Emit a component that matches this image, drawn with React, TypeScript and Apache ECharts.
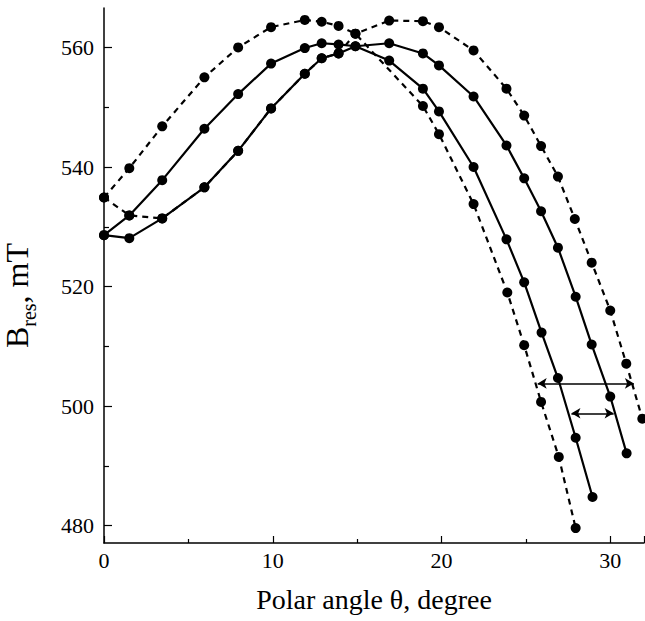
import React, { useEffect, useRef } from "react";
import * as echarts from "echarts";

// Dashed curve 1 (top-left rising branch, inner falling branch)
const thetaD1 = [0, 1.5, 3.45, 5.95, 7.95, 9.9, 11.9, 12.9, 13.9, 14.9, 18.9, 19.85, 21.9, 23.9, 24.9, 25.9, 26.95, 27.95];
const bresD1 = [534.9, 539.8, 546.8, 555.0, 560.0, 563.4, 564.6, 564.3, 563.6, 562.3, 550.2, 545.5, 533.8, 519.0, 510.2, 500.7, 491.5, 479.6];

// Dashed curve 2 (low-left branch, outer falling branch)
const thetaD2 = [0, 1.5, 3.45, 5.95, 7.95, 9.9, 11.9, 12.9, 13.9, 14.9, 16.9, 18.9, 19.85, 21.9, 23.85, 24.9, 25.9, 26.9, 27.9, 28.9, 30, 30.95, 31.9];
const bresD2 = [534.9, 531.9, 531.4, 536.6, 542.7, 549.8, 555.6, 558.2, 559.0, 562.3, 564.5, 564.4, 563.4, 559.5, 553.1, 548.6, 543.5, 538.4, 531.3, 524.0, 516.0, 507.1, 497.9];

// Solid curve 1 (middle rising branch, second-outer falling branch)
const thetaS1 = [0, 1.5, 3.45, 5.95, 7.95, 9.9, 11.9, 12.9, 13.9, 14.9, 16.9, 18.9, 19.85, 21.9, 23.85, 24.9, 25.9, 26.9, 27.95, 28.9, 30, 30.97];
const bresS1 = [528.6, 531.9, 537.8, 546.4, 552.2, 557.3, 559.9, 560.7, 560.5, 560.2, 560.7, 559.0, 557.0, 551.8, 543.6, 538.1, 532.6, 526.5, 518.3, 510.3, 501.6, 492.1];

// Solid curve 2 (lower rising branch, second-inner falling branch)
const thetaS2 = [0, 1.5, 3.45, 5.95, 7.95, 9.9, 11.9, 12.9, 13.9, 14.9, 16.9, 18.9, 19.85, 21.9, 23.85, 24.9, 25.93, 26.9, 27.95, 28.95];
const bresS2 = [528.6, 528.1, 531.4, 536.6, 542.7, 549.8, 555.6, 558.2, 559.0, 560.2, 557.8, 553.1, 549.3, 540.0, 527.9, 520.7, 512.3, 504.7, 494.7, 484.8];

// Double-headed arrows: [thetaStart, thetaEnd, bres]
const arrowUpper = [25.7, 31.4, 503.8];
const arrowLower = [27.7, 30.2, 498.8];

// Ticks
const yMajorTicks = [480, 500, 520, 540, 560];
const yMinorTicks = [490, 510, 530, 550];

const X_MIN = 0;
const X_MAX = 32;
const Y_MIN = 477.1;
const Y_MAX = 566.6;

const FONT = "Liberation Serif";

function zip(xs: number[], ys: number[]) {
  return xs.map((x, i) => [x, ys[i]]);
}

export default function App() {
  const ref = useRef<HTMLDivElement>(null);

  useEffect(() => {
    if (!ref.current) return;
    const chart = echarts.init(ref.current, null, { renderer: "svg" });

    const dot = {
      symbol: "circle",
      symbolSize: 10,
      itemStyle: { color: "#000" },
    };

    const arrowLine = (a: number[]) => [
      { coord: [a[0], a[2]] },
      { coord: [a[1], a[2]] },
    ];

    chart.setOption({
      animation: false,
      backgroundColor: "#fff",
      textStyle: { fontFamily: FONT, fontSize: 22, color: "#000" },
      grid: { left: 104, right: 1, top: 8, bottom: 78, containLabel: false, outerBoundsMode: "none" },
      xAxis: {
        type: "value",
        min: X_MIN,
        max: X_MAX,
        interval: 10,
        name: "Polar angle θ, degree",
        nameLocation: "middle",
        nameGap: 42,
        nameTextStyle: { fontFamily: FONT, fontSize: 28, color: "#000" },
        axisLine: { show: true, lineStyle: { color: "#000", width: 1.5 } },
        axisTick: { show: true, inside: true, length: 7, lineStyle: { color: "#000", width: 1.2 } },
        minorTick: { show: true, splitNumber: 2, length: 4, lineStyle: { color: "#000", width: 1.2 } },
        axisLabel: {
          show: true,
          margin: 6,
          fontFamily: FONT,
          fontSize: 22,
          color: "#000",
          showMaxLabel: false,
        },
        splitLine: { show: false },
        minorSplitLine: { show: false },
      },
      yAxis: [
        {
          type: "value",
          min: Y_MIN,
          max: Y_MAX,
          name: "{b|B}{s|res}{b|, mT}",
          nameLocation: "middle",
          nameRotate: 90,
          nameGap: 65,
          nameTextStyle: {
            color: "#000",
            padding: [0, 40, 0, 0],
            rich: {
              b: { fontFamily: FONT, fontSize: 32, lineHeight: 44, color: "#000" },
              s: { fontFamily: FONT, fontSize: 20, lineHeight: 22, verticalAlign: "bottom", color: "#000" },
            },
          },
          axisLine: { show: true, lineStyle: { color: "#000", width: 1.5 } },
          axisTick: { show: true, inside: true, length: 8, customValues: yMajorTicks, lineStyle: { color: "#000", width: 1.2 } },
          axisLabel: {
            show: true,
            customValues: yMajorTicks,
            margin: 10,
            fontFamily: FONT,
            fontSize: 22,
            color: "#000",
          },
          splitLine: { show: false },
        },
        {
          type: "value",
          min: Y_MIN,
          max: Y_MAX,
          position: "left",
          axisLine: { show: false },
          axisTick: { show: true, inside: true, length: 5, customValues: yMinorTicks, lineStyle: { color: "#000", width: 1.2 } },
          axisLabel: { show: false },
          splitLine: { show: false },
        },
      ],
      series: [
        {
          type: "line",
          yAxisIndex: 0,
          data: zip(thetaD1, bresD1),
          ...dot,
          lineStyle: { color: "#000", width: 2.2, type: [6, 5] },
        },
        {
          type: "line",
          yAxisIndex: 0,
          data: zip(thetaD2, bresD2),
          ...dot,
          lineStyle: { color: "#000", width: 2.2, type: [6, 5] },
        },
        {
          type: "line",
          yAxisIndex: 0,
          data: zip(thetaS1, bresS1),
          ...dot,
          lineStyle: { color: "#000", width: 2.2, type: "solid" },
        },
        {
          type: "line",
          yAxisIndex: 0,
          data: zip(thetaS2, bresS2),
          ...dot,
          lineStyle: { color: "#000", width: 2.2, type: "solid" },
          markLine: {
            silent: true,
            symbol: ["arrow", "arrow"],
            symbolSize: [8, 9],
            label: { show: false },
            lineStyle: { color: "#000", width: 1.5, type: "solid" },
            data: [arrowLine(arrowUpper), arrowLine(arrowLower)],
          },
        },
      ],
    });

    return () => chart.dispose();
  }, []);

  return (
    <div
      ref={ref}
      style={{ position: "fixed", left: 0, top: 0, width: 645, height: 621, background: "#fff" }}
    />
  );
}
